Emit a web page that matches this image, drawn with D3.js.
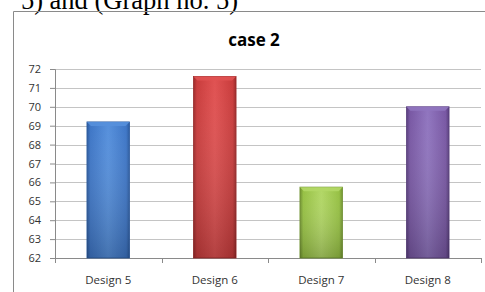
<!DOCTYPE html>
<meta charset="utf-8">
<style>
  body { margin: 0; background: #fff; }
  .tick text { font-family: "Open Sans", "Liberation Sans", sans-serif; font-size: 11px; fill: #333; }
</style>
<svg width="485" height="292"></svg>
<script src="https://cdnjs.cloudflare.com/ajax/libs/d3/7.8.5/d3.min.js"></script>
<script>

var categories = ["Design 5", "Design 6", "Design 7", "Design 8"];
var values = [69.2, 71.6, 65.75, 70];
var yTicks = [62, 63, 64, 65, 66, 67, 68, 69, 70, 71, 72];
var colors = [
  {light: "#5690dc", mid: "#3e76c6", dark: "#2b5a9e"},
  {light: "#e05252", mid: "#c93c3c", dark: "#9a2a2a"},
  {light: "#b2d766", mid: "#96c043", dark: "#6f9130"},
  {light: "#9075bf", mid: "#7857a3", dark: "#573d7c"}
];

var svg = d3.select("svg"),
    margin = {top: 69, right: 4, bottom: 34, left: 55},
    width = +svg.attr("width") - margin.left - margin.right,
    height = +svg.attr("height") - margin.top - margin.bottom;

// caption text above the chart box, clipped by the page top
svg.append("text")
    .attr("x", 238)
    .attr("y", 9)
    .attr("text-anchor", "end")
    .style("font-family", "'Liberation Serif', serif")
    .style("font-size", "26.5px")
    .text("5) and (Graph no. 5)");

// chart box border
svg.append("path")
    .attr("d", "M13.5,292 V11.5 H485")
    .attr("fill", "none")
    .attr("stroke", "#8a8a8a");

svg.append("text")
    .attr("x", 254)
    .attr("y", 46)
    .attr("text-anchor", "middle")
    .style("font-family", "'Open Sans', sans-serif")
    .style("font-weight", "bold")
    .style("font-size", "17px")
    .text("case 2");

var defs = svg.append("defs");
colors.forEach(function (c, i) {
  var g = defs.append("linearGradient").attr("id", "grad" + i)
      .attr("x1", 0).attr("x2", 1).attr("y1", 0).attr("y2", 0);
  g.append("stop").attr("offset", "0%").attr("stop-color", c.dark);
  g.append("stop").attr("offset", "8%").attr("stop-color", c.mid);
  g.append("stop").attr("offset", "50%").attr("stop-color", c.light);
  g.append("stop").attr("offset", "92%").attr("stop-color", c.mid);
  g.append("stop").attr("offset", "100%").attr("stop-color", c.dark);
  var v = defs.append("linearGradient").attr("id", "shade" + i)
      .attr("x1", 0).attr("x2", 0).attr("y1", 0).attr("y2", 1);
  v.append("stop").attr("offset", "0%").attr("stop-color", "#fff").attr("stop-opacity", 0.0);
  v.append("stop").attr("offset", "100%").attr("stop-color", "#000").attr("stop-opacity", 0.2);
});

var x = d3.scaleBand().domain(categories).range([0, width]).paddingInner(0.6).paddingOuter(0.3);
var y = d3.scaleLinear().domain([62, 72]).range([height, 0]);

var g = svg.append("g")
    .attr("transform", "translate(" + margin.left + "," + margin.top + ")");

// gridlines
g.append("g")
  .selectAll("line")
  .data(yTicks.slice(1))
  .enter().append("line")
    .attr("x1", 0).attr("x2", width)
    .attr("y1", function (d) { return Math.round(y(d)) + 0.5; })
    .attr("y2", function (d) { return Math.round(y(d)) + 0.5; })
    .attr("stroke", "#c4c4c4");

var yAxis = g.append("g")
    .call(d3.axisLeft(y).tickValues(yTicks).tickSize(5).tickPadding(9).tickFormat(d3.format("d")));
yAxis.select(".domain").attr("stroke", "#8a8a8a");
yAxis.selectAll(".tick line").attr("stroke", "#8a8a8a");

var xb = d3.scalePoint().domain(d3.range(5)).range([0, width]);
var xAxis = g.append("g")
    .attr("transform", "translate(0," + height + ")");
xAxis.append("line").attr("x1", 0).attr("x2", width).attr("y1", 0.5).attr("y2", 0.5).attr("stroke", "#8a8a8a");
xAxis.selectAll(".tk")
  .data(d3.range(5))
  .enter().append("line")
    .attr("x1", function (d) { return Math.round(xb(d)) + 0.5; })
    .attr("x2", function (d) { return Math.round(xb(d)) + 0.5; })
    .attr("y1", 0).attr("y2", 5)
    .attr("stroke", "#8a8a8a");
xAxis.selectAll(".lbl")
  .data(categories)
  .enter().append("text")
    .attr("x", function (d) { return x(d) + x.bandwidth() / 2; })
    .attr("y", 26)
    .attr("text-anchor", "middle")
    .style("font-family", "'Open Sans', sans-serif")
    .style("font-size", "11.5px")
    .attr("fill", "#333")
    .text(function (d) { return d; });

var bars = g.selectAll(".bar")
  .data(values)
  .enter().append("g");

bars.append("rect")
    .attr("x", function (d, i) { return x(categories[i]); })
    .attr("y", function (d) { return y(d); })
    .attr("width", x.bandwidth())
    .attr("height", function (d) { return height - y(d); })
    .attr("fill", function (d, i) { return "url(#grad" + i + ")"; })
    .attr("stroke", function (d, i) { return colors[i].dark; })
    .attr("stroke-width", 0.8);

bars.append("rect")
    .attr("x", function (d, i) { return x(categories[i]); })
    .attr("y", function (d) { return y(d); })
    .attr("width", x.bandwidth())
    .attr("height", function (d) { return height - y(d); })
    .attr("fill", function (d, i) { return "url(#shade" + i + ")"; });

// top bevel
bars.append("path")
    .attr("d", function (d, i) {
      var x0 = x(categories[i]), x1 = x0 + x.bandwidth(), y0 = y(d);
      return "M" + x0 + "," + y0 + "H" + x1 + "L" + (x1 - 4) + "," + (y0 + 4) + "H" + (x0 + 4) + "Z";
    })
    .attr("fill", function (d, i) { return colors[i].light; })
    .attr("opacity", 0.9);

</script>
</html>
